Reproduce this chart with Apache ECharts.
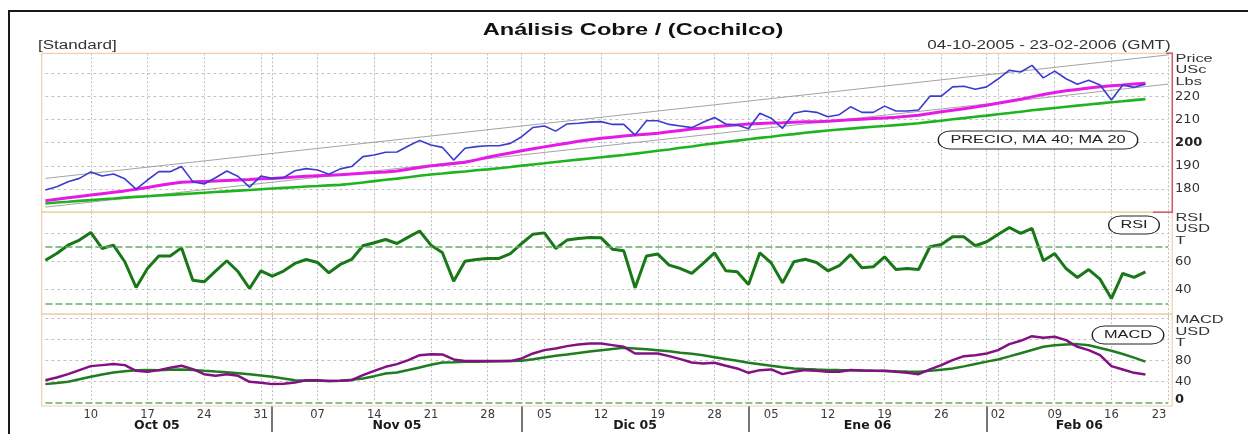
<!DOCTYPE html>
<html><head><meta charset="utf-8">
<script src="https://cdn.jsdelivr.net/npm/echarts@6/dist/echarts.min.js"></script>
<style>html,body{margin:0;padding:0;background:#fff}#c{width:1248px;height:434px}</style>
</head><body><div id="c"></div>
<script>
const dates = [
'2005-10-04','2005-10-05','2005-10-06','2005-10-07','2005-10-10','2005-10-11','2005-10-12','2005-10-13','2005-10-14','2005-10-17',
'2005-10-18','2005-10-19','2005-10-20','2005-10-21','2005-10-24','2005-10-25','2005-10-26','2005-10-27','2005-10-28','2005-10-31',
'2005-11-01','2005-11-02','2005-11-03','2005-11-04','2005-11-07','2005-11-08','2005-11-09','2005-11-10','2005-11-11','2005-11-14',
'2005-11-15','2005-11-16','2005-11-17','2005-11-18','2005-11-21','2005-11-22','2005-11-23','2005-11-24','2005-11-25','2005-11-28',
'2005-11-29','2005-11-30','2005-12-01','2005-12-02','2005-12-05','2005-12-06','2005-12-07','2005-12-08','2005-12-09','2005-12-12',
'2005-12-13','2005-12-14','2005-12-15','2005-12-16','2005-12-19','2005-12-20','2005-12-21','2005-12-22','2005-12-23','2005-12-28',
'2005-12-29','2005-12-30','2006-01-03','2006-01-04','2006-01-05','2006-01-06','2006-01-09','2006-01-10','2006-01-11','2006-01-12',
'2006-01-13','2006-01-16','2006-01-17','2006-01-18','2006-01-19','2006-01-20','2006-01-23','2006-01-24','2006-01-25','2006-01-26',
'2006-01-27','2006-01-30','2006-01-31','2006-02-01','2006-02-02','2006-02-03','2006-02-06','2006-02-07','2006-02-08','2006-02-09',
'2006-02-10','2006-02-13','2006-02-14','2006-02-15','2006-02-16','2006-02-17','2006-02-20','2006-02-21','2006-02-22','2006-02-23'];

const price = [179.6,181.0,183.1,184.6,187.4,185.6,186.5,184.4,180.0,183.9,
187.5,187.5,189.7,183.2,182.2,184.9,187.8,185.4,180.8,185.6,
184.6,184.9,187.9,188.8,188.2,186.4,188.7,189.7,194.0,194.7,
195.9,196.0,198.6,201.0,199.0,198.0,192.5,197.6,198.3,198.7,
198.7,199.7,202.6,206.6,207.2,205.0,208.1,208.4,208.9,209.1,
207.9,207.9,203.3,209.5,209.5,207.9,207.2,206.5,208.8,210.9,
208.1,207.6,206.0,212.7,210.6,206.2,212.7,213.7,213.1,211.2,
212.1,215.5,213.1,213.1,215.8,213.7,213.7,214.1,220.1,220.1,
224.1,224.4,223.1,224.1,227.5,231.3,230.5,233.4,228.0,230.9,
227.6,225.2,227.0,224.9,218.4,224.9,223.9,225.3];

const ma20 = [175.0,175.6,176.2,176.8,177.4,178.0,178.6,179.2,179.9,180.7,
181.5,182.3,182.9,183.1,183.3,183.5,183.7,183.9,184.1,184.4,
184.6,184.9,185.2,185.5,185.7,185.9,186.2,186.5,186.8,187.1,
187.4,187.8,188.5,189.3,190.0,190.5,191.0,191.6,192.6,193.7,
194.7,195.6,196.5,197.4,198.2,199.0,199.8,200.6,201.3,201.9,
202.4,202.9,203.3,203.7,204.1,204.7,205.3,205.9,206.4,206.9,
207.3,207.7,208.1,208.3,208.5,208.6,208.8,209.0,209.1,209.3,
209.6,209.9,210.1,210.4,210.7,211.0,211.4,211.9,212.6,213.4,
214.0,214.7,215.4,216.2,217.0,217.9,218.8,219.8,220.8,221.7,
222.4,223.0,223.6,224.2,224.6,224.9,225.3,225.7];

const ma40 = [173.8,174.2,174.5,174.9,175.2,175.6,175.9,176.3,176.6,176.9,
177.2,177.5,177.8,178.1,178.4,178.7,179.0,179.3,179.6,179.9,
180.2,180.5,180.8,181.1,181.3,181.6,181.8,182.3,182.8,183.4,
184.0,184.5,185.1,185.7,186.3,186.7,187.2,187.6,188.1,188.5,
189.0,189.5,190.1,190.6,191.1,191.7,192.2,192.7,193.2,193.7,
194.2,194.7,195.3,195.9,196.5,197.1,197.8,198.4,199.1,199.7,
200.3,200.9,201.5,202.1,202.6,203.2,203.7,204.3,204.8,205.3,
205.7,206.1,206.5,206.9,207.2,207.6,208.0,208.4,209.0,209.5,
210.1,210.6,211.2,211.7,212.3,212.8,213.4,214.0,214.5,215.0,
215.5,216.0,216.5,217.0,217.5,217.9,218.4,218.8];

const trendUpper = [184.6, 237.9];
const trendLower = [172.2, 225.3];

const rsi = [60.7,65.4,71.3,74.9,80.3,69.0,71.3,59.6,41.4,54.8,
63.6,63.6,69.4,46.6,45.4,53.0,60.3,52.5,40.7,53.2,
49.4,53.0,58.4,61.2,59.1,51.8,57.7,61.2,70.9,73.0,
75.3,72.5,77.0,81.3,71.3,66.1,45.9,60.0,61.2,61.9,
61.9,65.4,72.5,79.1,80.0,69.0,74.9,76.0,76.7,76.5,
68.5,67.3,41.2,63.6,65.0,57.2,54.8,51.3,58.4,65.9,
53.2,52.5,43.5,65.9,58.8,44.7,59.6,61.4,59.1,53.2,
56.8,64.6,55.3,56.0,63.1,54.1,54.8,54.1,70.2,71.8,
77.2,77.2,70.9,73.7,78.9,83.8,79.6,83.1,60.3,65.4,
54.8,48.5,54.1,47.3,33.6,51.3,48.5,52.5];

const macd = [42.9,48.0,54.3,61.9,69.5,71.4,73.3,71.4,60.6,58.7,
61.9,66.3,70.1,63.8,54.3,51.2,54.3,51.2,39.8,37.9,
35.4,36.0,38.5,42.9,42.9,41.1,41.7,42.9,52.4,60.6,
68.2,73.3,80.8,90.3,92.2,91.6,82.1,79.0,79.0,79.0,
79.0,79.0,84.0,93.5,99.8,103.0,107.4,110.5,112.4,112.4,
109.3,106.1,93.5,93.5,93.5,88.4,82.7,76.4,74.5,75.8,
70.1,65.1,56.8,61.9,63.2,54.3,58.7,61.9,60.6,58.7,
58.7,62.0,61.0,60.6,60.6,58.7,56.8,54.3,63.2,71.4,
80.8,88.4,90.3,93.5,99.8,111.2,117.5,126.3,123.2,125.1,
118.7,106.1,99.8,90.3,69.5,63.2,56.8,53.7];

const signal = [35.4,37.5,39.8,44.5,49.3,53.5,57.5,60.0,61.9,62.0,
61.9,62.5,63.2,62.0,60.6,59.3,58.1,56.2,54.3,51.8,
49.3,46.0,42.9,42.0,41.7,41.5,41.7,43.5,46.1,50.5,
55.6,57.5,62.0,67.0,72.0,76.4,77.0,77.7,78.0,78.4,
78.8,79.2,79.6,82.5,86.0,89.0,91.5,94.5,97.2,99.8,
102.0,104.2,103.0,101.5,99.8,97.5,95.0,92.8,90.3,86.5,
83.0,79.5,75.8,73.0,70.0,67.5,65.1,64.0,63.0,62.3,
62.0,61.9,61.3,60.6,60.2,59.6,59.1,58.7,60.5,62.8,
65.1,69.0,73.5,78.0,82.1,88.0,94.0,100.0,106.1,109.0,
110.5,111.2,109.0,104.0,98.5,92.5,85.5,78.0];

const priceTicks = [220, 210, 200, 190, 180];
const priceBold = 200;
const rsiTicks = [60, 40];
const rsiBands = [70, 30];
const macdTicks = [80, 40, 0];
const macdBold = 0;
const macdZero = [0];
const monthNames = ['Oct 05', 'Nov 05', 'Dic 05', 'Ene 06', 'Feb 06'];
const priceUnit = ['Price', 'USc', 'Lbs'];
const rsiUnit = ['RSI', 'USD', 'T'];
const macdUnit = ['MACD', 'USD', 'T'];
const titleText = 'Análisis Cobre / (Cochilco)';
const leftNote = '[Standard]';
const rangeText = '04-10-2005 - 23-02-2006 (GMT)';
const legendText = 'PRECIO, MA 40; MA 20';

// ---------- layout ----------
const N = dates.length;
const gridLeft = 45.4, gridWidth = 1122.7;
const step = gridWidth / (N - 1);
const monthStarts = [];
for (let i = 1; i < N; i++) if (dates[i].slice(5, 7) !== dates[i - 1].slice(5, 7)) monthStarts.push(i);
const edges = [-0.33].concat(monthStarts, [N - 1 + 0.34]);
const monthLabelAt = {};
const monthRich = {};
monthNames.forEach((m, k) => {
  const c = (edges[k] + edges[k + 1]) / 2;
  const idx = Math.round(c);
  const off = (c - idx) * step;
  monthLabelAt[idx] = k;
  monthRich['m' + k] = {fontFamily: 'DejaVu Sans', fontWeight: 'bold', fontSize: 12.5, color: '#1a1a1a',
    padding: off >= 0 ? [0, 0, 0, 2 * off] : [0, -2 * off, 0, 0]};
});
const vSplit = (i) => i % 5 === 4 || monthStarts.indexOf(i) >= 0;
const dayOf = (d) => d.slice(8, 10);

const gridLine = {color: '#c2c2c2', type: [3, 3], width: 1};
const xBase = (gi) => ({
  type: 'category', gridIndex: gi, data: dates, boundaryGap: false,
  axisLine: {show: false}, axisTick: {show: false}, axisLabel: {show: false},
  splitLine: {show: true, interval: vSplit, lineStyle: {color: '#bdbdbd', type: [2, 2], width: 1}}
});
const numFont = {fontFamily: 'DejaVu Sans', fontSize: 13, color: '#333'};
const yBase = (gi, min, max, interval, ticks, bold, rich) => ({
  type: 'value', gridIndex: gi, position: 'right', min, max, interval,
  axisLine: {show: false}, axisTick: {show: false},
  splitLine: {show: true, showMinLine: false, showMaxLine: false, lineStyle: gridLine},
  axisLabel: Object.assign({margin: 7, formatter: (v) => ticks.indexOf(v) >= 0 ? (v === bold ? '{b|' + v + '}' : '' + v) : '',
    rich: {b: rich}}, numFont)
});

const xLabelAxis = xBase(2);
xLabelAxis.offset = 3.3;
xLabelAxis.axisLabel = {show: true, interval: (i) => i % 5 === 4, margin: 3,
  fontFamily: 'DejaVu Sans', fontSize: 11.5, color: '#3a3a3a',
  formatter: (v, i) => i === N - 1 ? '{last|' + dayOf(v) + '}' : dayOf(v),
  rich: {last: {fontFamily: 'DejaVu Sans', fontSize: 11.5, color: '#3a3a3a', padding: [0, 18, 0, 0]}}};

const monthAxis = {
  type: 'category', gridIndex: 2, data: dates, boundaryGap: false, position: 'bottom', offset: 3.3,
  axisLine: {show: false}, splitLine: {show: false},
  axisTick: {show: true, interval: (i) => monthStarts.indexOf(i) >= 0, length: 26, lineStyle: {color: '#4a4a4a', width: 1.5}},
  axisLabel: {show: true, interval: (i) => monthLabelAt[i] !== undefined, margin: 13,
    formatter: (v, i) => '{m' + monthLabelAt[i] + '|' + monthNames[monthLabelAt[i]] + '}', rich: monthRich}
};

const lineS = (name, xi, data, color, width, extra) => Object.assign({
  name, type: 'line', xAxisIndex: xi, yAxisIndex: xi, data, showSymbol: false, symbol: 'none',
  lineStyle: {color, width}, itemStyle: {color}, silent: true, animation: false
}, extra || {});
const dashGreen = {color: '#66aa66', type: [7, 3], width: 1.5};

// ---------- graphic (frames & texts) ----------
const T = (text, x, y, font, align, sx, fill, extra) => ({
  type: 'text', x, y, scaleX: sx, z: 100,
  style: Object.assign({text, font, fill: fill || '#1a1a1a', align, verticalAlign: 'middle',
    textAlign: align, textVerticalAlign: 'middle'}, extra || {})
});
const boxStyle = (padX) => ({backgroundColor: '#fff', borderColor: '#222', borderWidth: 1, borderRadius: 8,
  padding: [3, padX, 2, padX], lineHeight: 12});
const frame = (y, h) => ({type: 'rect', z: 1, shape: {x: 41.7, y, width: 1130.5, height: h},
  style: {fill: null, stroke: '#f1cfab', lineWidth: 1.2}});
const graphics = [
  {type: 'rect', z: 1, shape: {x: 9, y: 11, width: 1300, height: 500}, style: {fill: null, stroke: '#1a1a1a', lineWidth: 2}},
  frame(53.3, 158.9), frame(212.2, 102), frame(314.2, 91.8),
  {type: 'polyline', z: 5, shape: {points: [[1153, 212.2], [1172.3, 212.2], [1172.3, 53.3], [1166, 53.3]]},
    style: {fill: null, stroke: '#d65a6b', lineWidth: 1.5}},
  T(titleText, 633, 30, 'bold 17px "Liberation Sans"', 'center', 1.39, '#111'),
  T(leftNote, 38, 45.5, '12px "Liberation Sans"', 'left', 1.42, '#333'),
  T(rangeText, 1170.7, 45.5, '12px "Liberation Sans"', 'right', 1.42, '#333'),
  T(legendText, 1038, 140, '11.5px "Liberation Sans"', 'center', 1.42, '#222', boxStyle(8)),
  T('RSI', 1134, 225, '11.5px "Liberation Sans"', 'center', 1.42, '#222', boxStyle(7.7)),
  T('MACD', 1128, 335, '11.5px "Liberation Sans"', 'center', 1.42, '#222', boxStyle(7.7))
];
[[priceUnit, 58.7], [rsiUnit, 217.5], [macdUnit, 320]].forEach(([arr, y0]) => {
  arr.forEach((s, k) => graphics.push(T(s, 1175.5, y0 + k * 11.6, '11.5px "Liberation Sans"', 'left', 1.42, '#333')));
});

const option = {
  animation: false,
  backgroundColor: '#fff',
  grid: [
    {left: gridLeft, width: gridWidth, top: 53.3, height: 158.9},
    {left: gridLeft, width: gridWidth, top: 212.2, height: 105.6},
    {left: gridLeft, width: gridWidth, top: 314.2, height: 88.6}
  ],
  xAxis: [xBase(0), xBase(1), xLabelAxis, monthAxis],
  yAxis: [
    yBase(0, 170, 238.6, 10, priceTicks, priceBold, {fontFamily: 'DejaVu Sans', fontSize: 13, fontWeight: 'bold', color: '#222'}),
    yBase(1, 20, 94.6, 20, rsiTicks, null, {}),
    yBase(2, 0, 167.9, 40, macdTicks, macdBold, {fontFamily: 'DejaVu Sans', fontSize: 13, fontWeight: 'bold', color: '#222', padding: [0, 0, 7, 0]})
  ],
  series: [
    lineS('Tendencia sup.', 0, [[0, trendUpper[0]], [N - 1, trendUpper[1]]], '#8c8c8c', 0.8, {z: 1}),
    lineS('Tendencia inf.', 0, [[0, trendLower[0]], [N - 1, trendLower[1]]], '#8c8c8c', 0.8, {z: 1}),
    lineS('MA 40', 0, ma40, '#1fb41f', 2.6),
    lineS('MA 20', 0, ma20, '#e61ae6', 3),
    lineS('PRECIO', 0, price, '#3b3bd0', 1.6),
    lineS('RSI', 1, rsi, '#187818', 3, {markLine: {silent: true, symbol: ['none', 'none'], label: {show: false},
      lineStyle: dashGreen, data: rsiBands.map(v => ({yAxis: v}))}}),
    lineS('Señal', 2, signal, '#1f7d1f', 2.5, {markLine: {silent: true, symbol: ['none', 'none'], label: {show: false},
      lineStyle: dashGreen, data: macdZero.map(v => ({yAxis: v}))}}),
    lineS('MACD', 2, macd, '#821282', 2.5)
  ],
  graphic: {elements: graphics}
};
const chart = echarts.init(document.getElementById('c'), null, {renderer: 'canvas'});
chart.setOption(option);
</script>
</body></html>
